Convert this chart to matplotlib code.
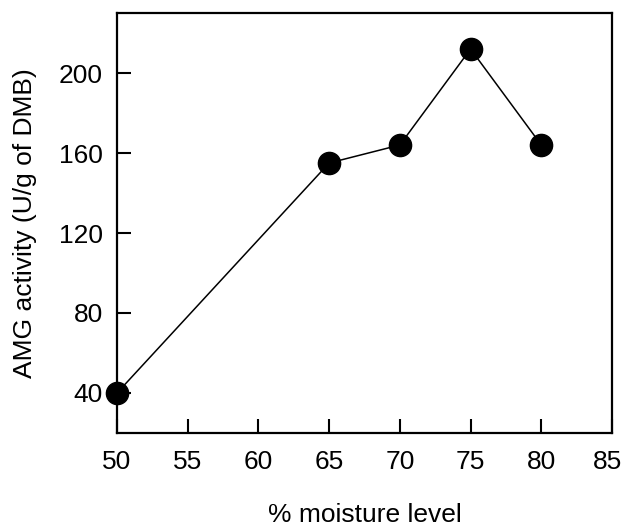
import matplotlib
matplotlib.use("Agg")
import matplotlib.pyplot as plt
import matplotlib.transforms as mtransforms

moisture = [50, 65, 70, 75, 80]
activity = [40, 155, 164, 212, 164]
xticks = [50, 55, 60, 65, 70, 75, 80, 85]
yticks = [40, 80, 120, 160, 200]

plt.rcParams['font.family'] = ['Liberation Sans', 'DejaVu Sans']

fig = plt.figure(figsize=(6.25, 5.29), dpi=100)
ax = fig.add_axes([117/625, 1-433/529, (612-117)/625, (433-13)/529])
ax.plot(moisture, activity, color='black', lw=1.1, marker='o', markersize=16,
        markerfacecolor='black', markeredgecolor='black', clip_on=False, zorder=3)
ax.set_xlim(50, 85)
ax.set_ylim(20, 230)
ax.set_xticks(xticks)
ax.set_yticks(yticks)
ax.tick_params(direction='in', length=10, width=1.5, labelsize=19, pad=10, colors='black')
ax.tick_params(axis='x', pad=12)
for s in ax.spines.values():
    s.set_linewidth(1.6)
ax.set_xlabel('% moisture level', fontsize=19, labelpad=21)
ax.set_ylabel('AMG activity (U/g of DMB)', fontsize=19, labelpad=16)

last = ax.get_xticklabels()[-1]
last.set_transform(last.get_transform() + mtransforms.ScaledTranslation(-4/100, 0, fig.dpi_scale_trans))

fig.savefig('out.png', dpi=100)
